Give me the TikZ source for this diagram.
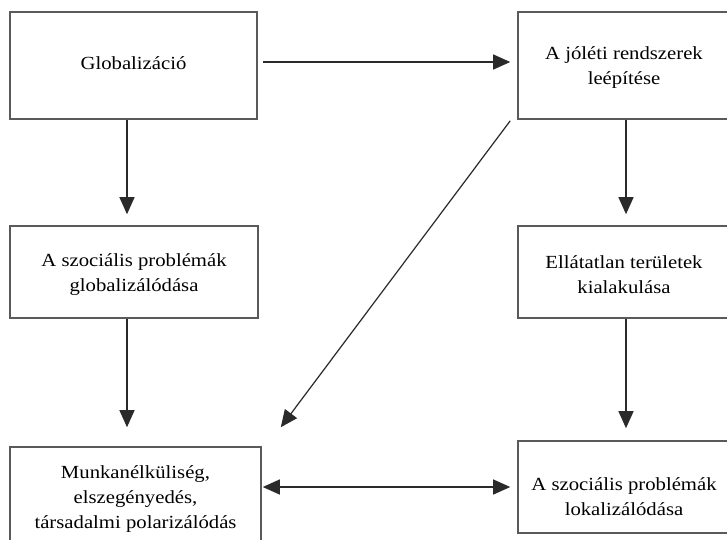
\documentclass[tikz,border=0pt]{standalone}
\usepackage{fontspec}
\setmainfont{Liberation Serif}[FakeStretch=1.12]
\usetikzlibrary{arrows.meta}
\definecolor{boxgray}{HTML}{5A5A5A}
\definecolor{arrgray}{HTML}{2A2A2A}
\tikzset{
  box/.style={draw=boxgray, line width=1.6pt, inner sep=0pt},
  txt/.style={align=center, inner sep=0pt, font=\fontsize{18.5}{25}\selectfont},
  arr/.style={draw=arrgray, line width=1.2pt, -{Triangle[length=17pt,width=15pt]}},
  darr/.style={draw=arrgray, line width=1.2pt, {Triangle[length=17pt,width=15pt]}-{Triangle[length=17pt,width=15pt]}}
}
\begin{document}
\begin{tikzpicture}[x=1pt,y=-1pt]
\useasboundingbox (0,0) rectangle (727,539);
\clip (0,0) rectangle (727,539);
\fill[white] (0,0) rectangle (727,539);
\node[box, minimum width=247pt, minimum height=107pt,
  label={[txt,yshift=2pt]center:Globalizáció}] (b1) at (133.5,65.5) {};
\node[box, minimum width=212pt, minimum height=107pt,
  label={[txt,yshift=-2pt]center:{A jóléti rendszerek\\leépítése}}] (b2) at (624,65.5) {};
\node[box, minimum width=248pt, minimum height=92pt,
  label={[txt,yshift=-3pt]center:{A szociális problémák\\globalizálódása}}] (b3) at (134,272) {};
\node[box, minimum width=212pt, minimum height=92pt,
  label={[txt,yshift=-3pt]center:{Ellátatlan területek\\kialakulása}}] (b4) at (624,272) {};
\node[box, minimum width=251pt, minimum height=110pt,
  label={[txt,yshift=3pt]center:{Munkanélküliség,\\elszegényedés,\\társadalmi polarizálódás}}] (b5) at (135.5,502) {};
\node[box, minimum width=212pt, minimum height=92pt,
  label={[txt,yshift=-10pt]center:{A szociális problémák\\lokalizálódása}}] (b6) at (624,487) {};
\draw[arr] ([xshift=5pt,yshift=3.5pt]b1.east) -- ([xshift=-7pt,yshift=3.5pt]b2.west);
\draw[arr] ([xshift=-6.5pt]b1.south) -- ([xshift=-7pt,yshift=11pt]b3.north);
\draw[arr] ([xshift=2pt]b2.south) -- ([xshift=2pt,yshift=11pt]b4.north);
\draw[arr] ([xshift=-7pt]b3.south) -- ([xshift=-8.5pt,yshift=19pt]b5.north);
\draw[arr] ([xshift=2pt]b4.south) -- ([xshift=2pt,yshift=12pt]b6.north);
\draw[arr] ([xshift=-7pt,yshift=-1pt]b2.south west) -- ([xshift=19pt,yshift=19pt]b5.north east);
\draw[darr] ([xshift=1pt]b5.east |- b6.west) -- ([xshift=-7pt]b6.west);
\end{tikzpicture}
\end{document}
